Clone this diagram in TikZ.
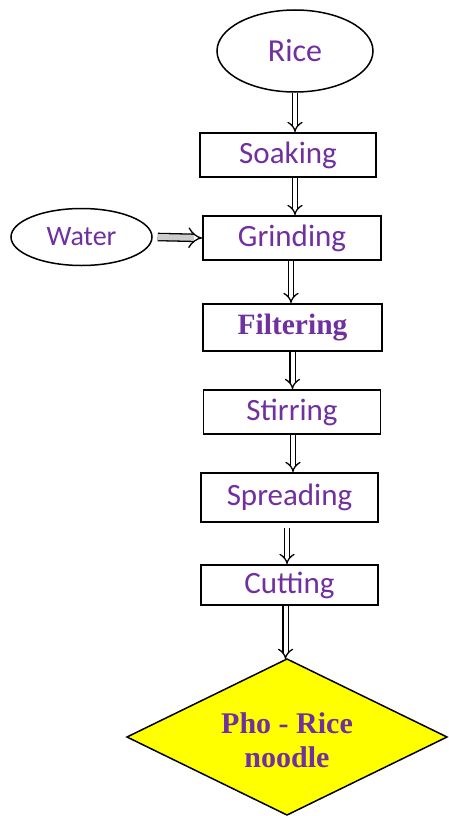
\documentclass[tikz,border=0pt]{standalone}
\usepackage{fontspec}
\setmainfont{Carlito}
\newfontfamily\titlefont{Liberation Serif}
\usetikzlibrary{shapes.geometric,arrows.meta,calc}
\definecolor{labelpurple}{RGB}{112,48,160}
\definecolor{prodyellow}{RGB}{255,255,0}
\begin{document}
\begin{tikzpicture}[x=1pt,y=-1pt,
  every node/.style={text=labelpurple, inner sep=0pt},
  stepbox/.style={draw=black, line width=1.8pt, rectangle, fill=white,
    font=\fontsize{31}{34}\selectfont},
  source/.style={draw=black, line width=1.5pt, ellipse, fill=white},
  product/.style={draw=black, line width=1.5pt, fill=prodyellow, line join=miter},
  producttext/.style={font=\titlefont\bfseries\fontsize{30}{34}\selectfont, align=center},
  flow/.style={draw=black, line width=1.3pt, double=white, double distance=4pt,
    -{Implies}},
  feed/.style={draw=black, line width=1.3pt, double=gray!40, double distance=6pt,
    -{Implies}}]
\useasboundingbox (0,0) rectangle (449,816);

% raw materials
\node[source, minimum width=156pt, minimum height=82pt,
  font=\fontsize{32}{34}\selectfont] (rice) at (295,51) {Rice};
\node[source, minimum width=141pt, minimum height=57pt,
  font=\fontsize{28}{30}\selectfont] (water) at (81.5,237) {Water};

% processing steps
\node[stepbox, minimum width=176pt, minimum height=44pt] (soak)   at (288,155)   {Soaking};
\node[stepbox, minimum width=178pt, minimum height=44pt] (grind)  at (292,238)   {Grinding};
\node[stepbox, minimum width=179pt, minimum height=47pt,
  font=\titlefont\bfseries\fontsize{29.5}{32}\selectfont]  (filt)   at (292.5,327.5) {Filtering};
\node[stepbox, minimum width=177pt, minimum height=44pt] (stir)   at (292,412)   {Stirring};
\node[stepbox, minimum width=177pt, minimum height=49pt] (spread) at (289.5,497.5) {Spreading};
\node[stepbox, minimum width=177pt, minimum height=40pt] (cut)    at (289.5,585) {Cutting};

% final product: diamond outline with its label
\coordinate (photop) at (287,659);
\coordinate (phoright) at (447,737);
\coordinate (phobottom) at (287,815);
\coordinate (pholeft) at (127,737);
\path[product] (photop) -- (phoright) -- (phobottom) -- (pholeft) -- cycle;
\node[producttext] (pho) at (287,740) {Pho - Rice\\noodle};

% flow between steps
\draw[flow] (rice.south) -- (rice.south |- soak.north);
\draw[flow] ([xshift=7pt]soak.south) -- ([xshift=7pt]soak.south |- grind.north);
\draw[flow] ([xshift=-1pt]grind.south) -- ([xshift=-1pt]grind.south |- filt.north);
\draw[flow] (filt.south) -- (filt.south |- stir.north);
\draw[flow] ([xshift=1pt]stir.south) -- ([xshift=1pt]stir.south |- spread.north);
\draw[flow] ([xshift=-2.5pt,yshift=-5pt]spread.south) -- ([xshift=-2.5pt]spread.south |- cut.north);
\draw[flow] ([xshift=-4pt]cut.south) -- ([xshift=-4pt]cut.south |- photop);
\draw[feed] ([xshift=5pt]water.east) -- (grind.west);
\end{tikzpicture}
\end{document}
